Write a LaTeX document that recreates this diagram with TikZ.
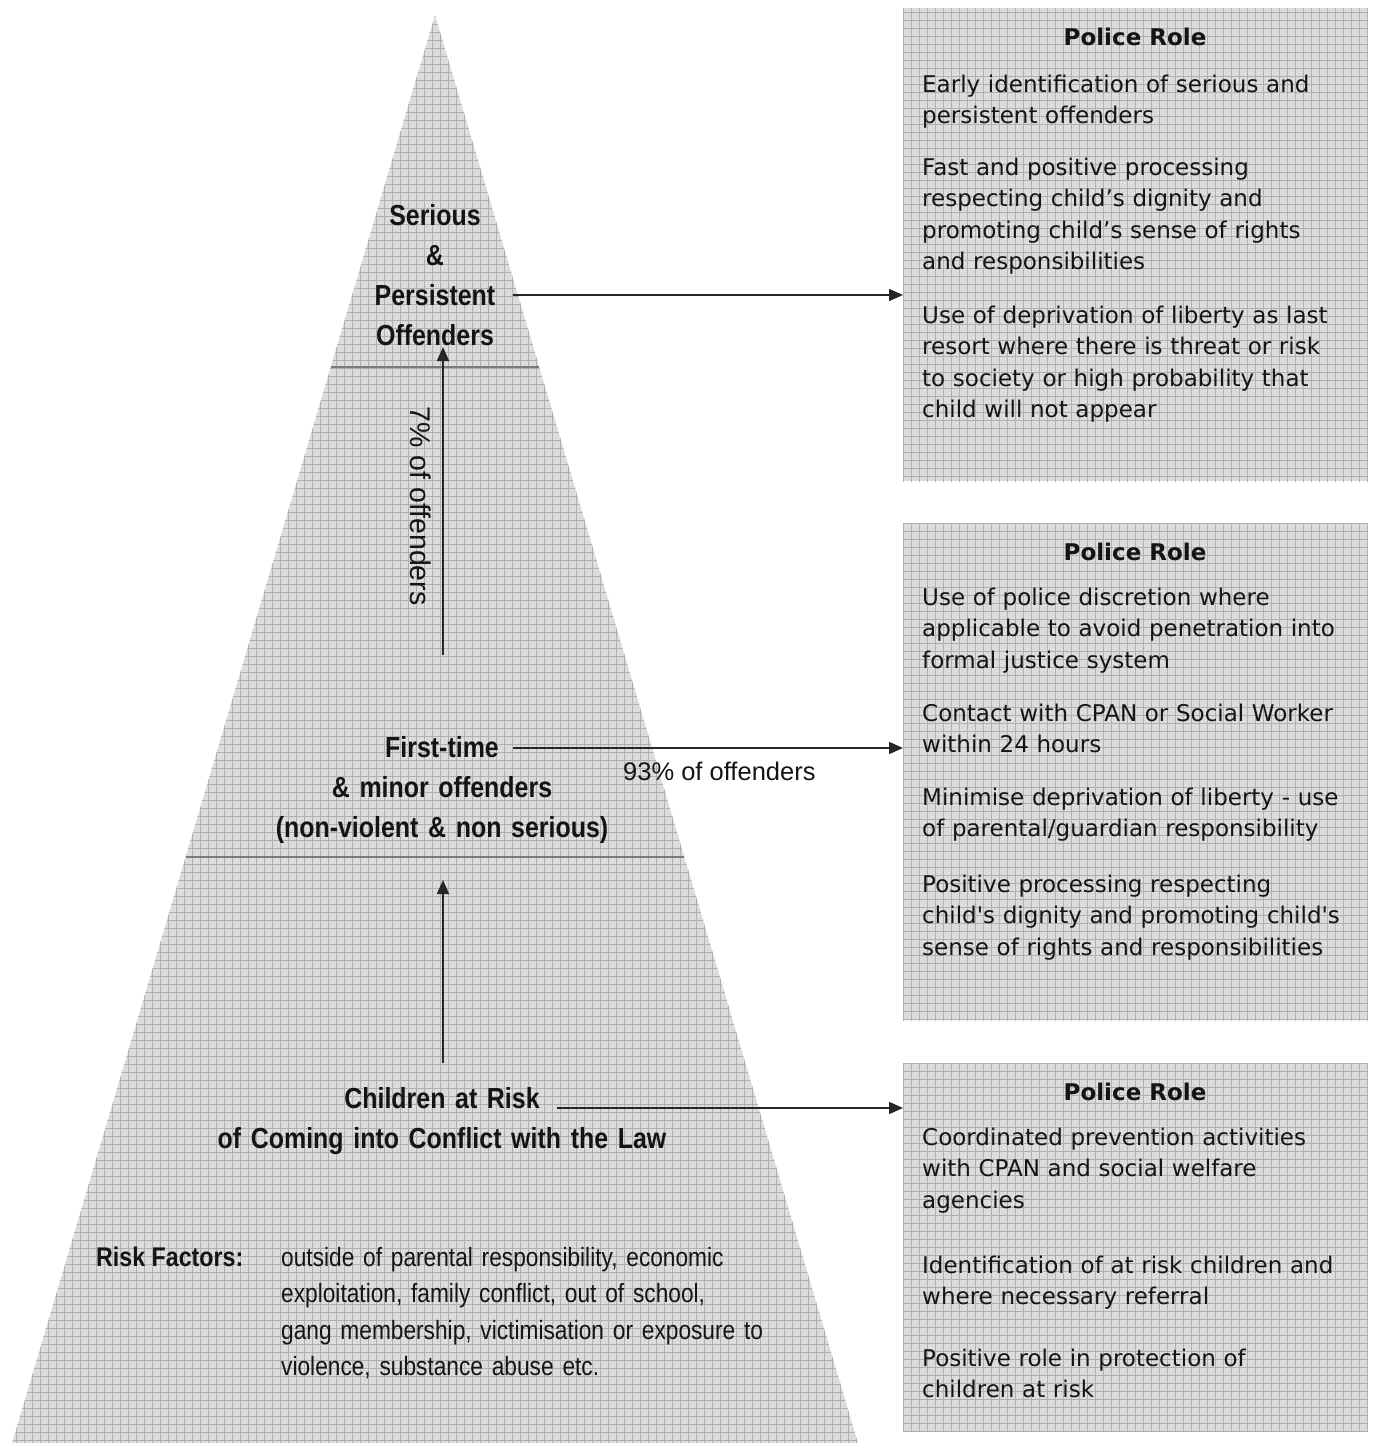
\documentclass[tikz,border=0pt]{standalone}
\usepackage{fontspec}
\setmainfont{Liberation Sans}
\newfontfamily\pyrfont[FakeStretch=0.86]{Liberation Sans}
\newfontfamily\pctfont{Liberation Sans}
\newfontfamily\boxfont{DejaVu Sans}
\usetikzlibrary{arrows.meta}
\definecolor{gridbg}{HTML}{DCDCDC}
\definecolor{gridln}{HTML}{B0B0B0}
\definecolor{divln}{HTML}{7A7A7A}
\definecolor{txt}{HTML}{141414}
\tikzset{
  gridded/.style={fill=gridbg, path picture={\draw[gridln, line width=0.9pt]
     ([shift={(-8pt,-8pt)}]path picture bounding box.south west) grid[step=8pt]
     ([shift={(8pt,8pt)}]path picture bounding box.north east);}},
  rolebox/.style={gridded, anchor=north west, inner sep=0pt, draw=none},
  divider/.style={draw=divln, line width=1.6pt},
  arr/.style={draw=black!85, line width=1.8pt, -{Triangle[length=14pt,width=12pt]}},
  plab/.style={font=\pyrfont\bfseries\fontsize{29}{40}\selectfont, text=txt, align=center, text width=460pt, anchor=base, inner sep=0pt},
  rlab/.style={font=\pyrfont\bfseries\fontsize{27}{36.5}\selectfont, text=txt, anchor=base west, inner sep=0pt},
  rtxt/.style={font=\pyrfont\fontsize{26.4}{36.5}\selectfont, text=txt, align=left, text width=520pt, anchor=base west, inner sep=0pt},
  pct/.style={font=\pctfont\fontsize{25.5}{30}\selectfont, text=txt, inner sep=0pt},
  btitle/.style={font=\boxfont\bfseries\fontsize{23}{27}\selectfont, text=txt, anchor=base, inner sep=0pt},
  btxt/.style={font=\boxfont\fontsize{23}{31.5}\selectfont, text=txt, align=left, text width=470pt, anchor=base west, inner sep=0pt},
}
\begin{document}
\begin{tikzpicture}[x=1pt,y=-1pt]
\useasboundingbox (0,0) rectangle (1373,1443);
% pyramid
\coordinate (apex) at (435,15);
\coordinate (bl) at (10,1450);
\coordinate (br) at (860,1450);
\path[gridded] (apex) -- (bl) -- (br) -- cycle;
\draw[divider] (330.7,367) -- (539.3,367);
\draw[divider] (185.6,857) -- (684.4,857);

% boxes
\node[rolebox, minimum width=465pt, minimum height=473pt] (box1) at (903,8) {};
\node[rolebox, minimum width=465pt, minimum height=497pt] (box2) at (903,523) {};
\node[rolebox, minimum width=465pt, minimum height=368pt] (box3) at (903,1063) {};

% pyramid labels
\node[plab] (serious) at (435,225) {Serious\\\&\\Persistent\\Offenders};
\node[plab] (first) at (442,757) {First-time\\\& minor offenders\\(non-violent \& non serious)};
\node[plab] (children) at (442,1108) {Children at Risk\\of Coming into Conflict with the Law};
\node[rlab] (riskt) at (96,1266) {Risk Factors:};
\node[rtxt] (risk) at (281,1266) {outside of parental responsibility, economic\\exploitation, family conflict, out of school,\\gang membership, victimisation or exposure to\\violence, substance abuse etc.};
\node[pct, font=\pctfont\fontsize{28.5}{32}\selectfont, rotate=-90] (p7) at (421,506) {7\% of offenders};
\node[pct, anchor=base west] (p93) at (623,780) {93\% of offenders};

% vertical arrows
\coordinate (v1s) at (443,655);
\coordinate (v1e) at (443,347);
\draw[arr] (v1s) -- (v1e);
\coordinate (v2s) at (443,1063);
\coordinate (v2e) at (443,880);
\draw[arr] (v2s) -- (v2e);

% horizontal arrows
\coordinate (h1) at (513,295);
\draw[arr] (h1) -- (h1 -| box1.west);
\coordinate (h2) at (513,748);
\draw[arr] (h2) -- (h2 -| box2.west);
\coordinate (h3) at (557,1108);
\draw[arr] (h3) -- (h3 -| box3.west);

% box 1
\node[btitle] (t1) at (1135,45) {Police Role};
\node[btxt] (b1a) at (922,92) {Early identification of serious and\\persistent offenders};
\node[btxt] (b1b) at (922,175) {Fast and positive processing\\respecting child’s dignity and\\promoting child’s sense of rights\\and responsibilities};
\node[btxt] (b1c) at (922,323) {Use of deprivation of liberty as last\\resort where there is threat or risk\\to society or high probability that\\child will not appear};

% box 2
\node[btitle] (t2) at (1135,560) {Police Role};
\node[btxt] (b2a) at (922,605) {Use of police discretion where\\applicable to avoid penetration into\\formal justice system};
\node[btxt] (b2b) at (922,721) {Contact with CPAN or Social Worker\\within 24 hours};
\node[btxt] (b2c) at (922,805) {Minimise deprivation of liberty - use\\of parental/guardian responsibility};
\node[btxt] (b2d) at (922,892) {Positive processing respecting\\child's dignity and promoting child's\\sense of rights and responsibilities};

% box 3
\node[btitle] (t3) at (1135,1100) {Police Role};
\node[btxt] (b3a) at (922,1145) {Coordinated prevention activities\\with CPAN and social welfare\\agencies};
\node[btxt] (b3b) at (922,1273) {Identification of at risk children and\\where necessary referral};
\node[btxt] (b3c) at (922,1366) {Positive role in protection of\\children at risk};
\end{tikzpicture}
\end{document}
